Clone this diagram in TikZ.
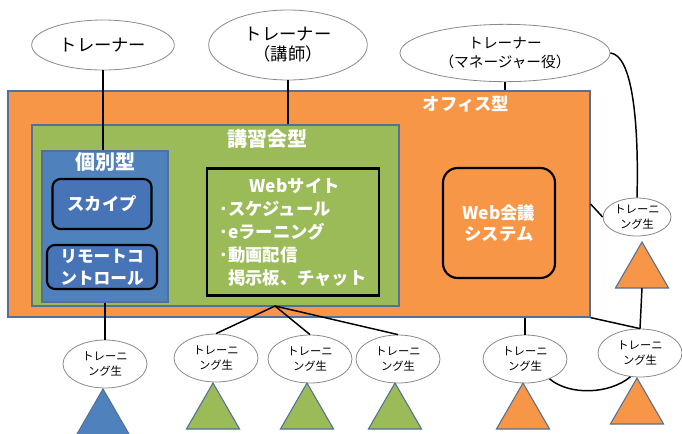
\documentclass[tikz,border=0pt]{standalone}
\usepackage{fontspec}
\setmainfont{Noto Sans CJK JP}
\usepackage{tikz}
\usetikzlibrary{shapes.geometric, positioning}
\definecolor{officeorange}{HTML}{F79646}
\definecolor{lecturegreen}{HTML}{9BBB59}
\definecolor{indivblue}{HTML}{4F81BD}
\definecolor{toolblue}{HTML}{4674B6}
\definecolor{boxline}{HTML}{52709A}
\definecolor{ellipseline}{HTML}{8A8A8A}
\tikzset{
  trainernode/.style={draw=ellipseline, line width=0.6pt, ellipse, fill=white, align=center, inner sep=0pt, font=\fontsize{13}{15}\selectfont},
  traineenode/.style={draw=ellipseline, line width=0.6pt, ellipse, fill=white, align=center, inner sep=0pt, minimum width=63pt, minimum height=36pt, font=\fontsize{8.5}{11}\selectfont},
  typebox/.style={draw=boxline, line width=0.9pt, rectangle, inner sep=0pt},
  toolbox/.style={draw=black, line width=1.6pt, rounded corners=6pt, align=center, text=white, font=\bfseries\fontsize{13}{16}\selectfont, inner sep=0pt},
  titletext/.style={text=white, font=\bfseries\fontsize{15}{17}\selectfont},
  trianglenode/.style={draw=boxline, line width=0.8pt, regular polygon, regular polygon sides=3, minimum size=46pt, inner sep=0pt, outer sep=0pt, anchor=corner 1},
  link/.style={line width=1.1pt}
}

\begin{document}
\begin{tikzpicture}[x=0.75pt, y=-0.75pt]
\useasboundingbox (0,0) rectangle (682,433);

% Trainers
\node[trainernode, minimum width=107pt, minimum height=37.5pt] (E1) at (103,45) {トレーナー};
\node[trainernode, minimum width=119pt, minimum height=52.5pt] (E2) at (288,45) {トレーナー\\（講師）};
\node[trainernode, minimum width=157.5pt, minimum height=43pt, font=\fontsize{11}{14}\selectfont] (E3) at (505,53) {トレーナー\\（マネージャー役）};

% Types
\node[typebox, fill=officeorange, minimum width=436.5pt, minimum height=169.5pt] (Office) at (299,204) {};
\node[titletext, font=\bfseries\fontsize{13}{15}\selectfont] (OfficeTitle) at (466,104) {オフィス型};
\node[typebox, fill=lecturegreen, minimum width=275.25pt, minimum height=135.75pt] (Lecture) at (215.5,215.5) {};
\node[titletext] (LectureTitle) at (267,139) {講習会型};
\node[typebox, fill=indivblue, minimum width=94.5pt, minimum height=113.25pt] (Indiv) at (105,226.5) {};
\node[titletext] (IndivTitle) at (105,162) {個別型};

% Tools
\node[toolbox, fill=toolblue, minimum width=74.25pt, minimum height=37.5pt] (Skype) at (102,204) {スカイプ};
\node[toolbox, fill=toolblue, minimum width=82.5pt, minimum height=33pt, font=\bfseries\fontsize{12.5}{16.5}\selectfont] (Remote) at (102,267) {リモートコ\\ントロール};
\node[toolbox, fill=lecturegreen, rounded corners=0pt, minimum width=129pt, minimum height=95.25pt, align=left, font=\bfseries\fontsize{13}{17.2}\selectfont] (Site) at (293,232) {\hspace*{1.75em}Webサイト\\･スケジュール\\･eラーニング\\･動画配信\\\hspace*{0.5em}掲示板、チャット};
\node[toolbox, fill=officeorange, rounded corners=11pt, minimum width=84pt, minimum height=82.5pt] (Conf) at (499,223) {Web会議\\システム};

% Trainees
\node[traineenode] (B1) at (105,364) {トレーニ\\ング生};
\node[traineenode] (B2) at (216,358) {トレーニ\\ング生};
\node[traineenode] (B3) at (310,359) {トレーニ\\ング生};
\node[traineenode] (B4) at (398,359) {トレーニ\\ング生};
\node[traineenode] (B5) at (525,359) {トレーニ\\ング生};
\node[traineenode] (B6) at (640,353) {トレーニ\\ング生};
\node[traineenode, minimum width=51pt, minimum height=28.5pt] (R1) at (637,217) {トレーニ\\ング生};

% Triangles
\node[trianglenode, fill=indivblue] (T1) at (103,389) {};
\node[trianglenode, fill=lecturegreen] (T2) at (213,383) {};
\node[trianglenode, fill=lecturegreen] (T3) at (307,383) {};
\node[trianglenode, fill=lecturegreen] (T4) at (395,383) {};
\node[trianglenode, fill=officeorange] (T5) at (523,383) {};
\node[trianglenode, fill=officeorange] (T6) at (637,378) {};
\node[trianglenode, fill=officeorange] (T0) at (642,242) {};

% Edges
\coordinate (fan) at (275,306);
\draw[link] (E1.south) -- (E1.south |- Indiv.north);
\draw[link] (E2.south) -- (E2.south |- Lecture.north);
\draw[link] (E3.south) -- (E3.south |- Office.north);
\draw[link] (E3.east) .. controls (632,55) and (639,120) .. (R1.north);
\draw[link] (Office.east) -- (R1.west);
\draw[link] (T0.side 2) -- (B6.north);
\draw[link] (Office.south east) -- (B6.north);
\draw[link] (B5.north |- Office.south) -- (B5.north);
\draw[link] (Indiv.south) -- (B1.north);
\draw[link] (fan) -- (B2.north);
\draw[link] (fan) -- (B3.north);
\draw[link] (fan) -- (B4.north);
\draw[link] (B5.-39) .. controls (570,396) and (610,394) .. (B6.-112);

\end{tikzpicture}
\end{document}
